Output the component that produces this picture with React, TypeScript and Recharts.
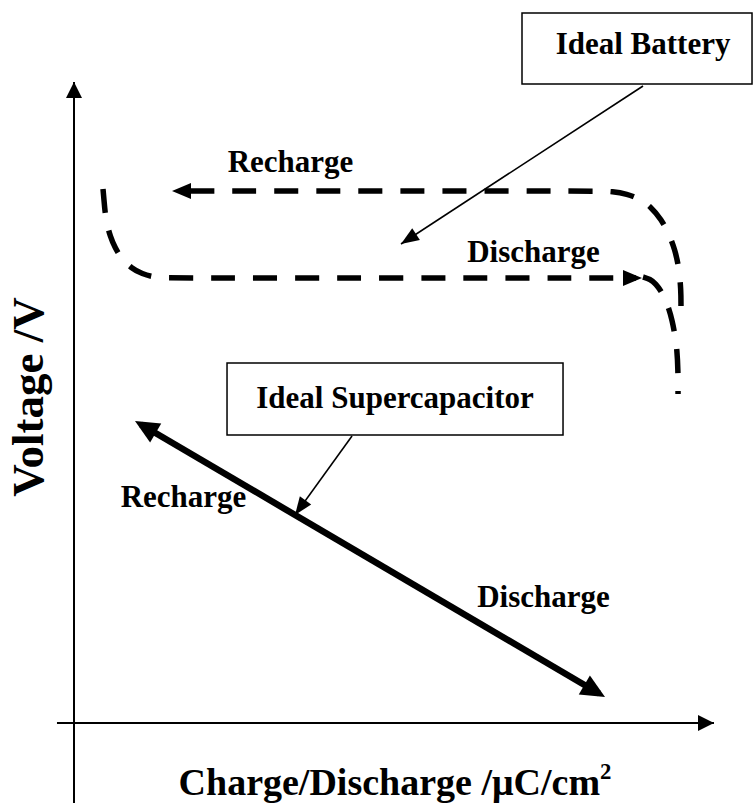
import React from "react";
import { LineChart, Line, XAxis, YAxis, ReferenceArea, ReferenceDot } from "recharts";

// ---- data (q = charge, v = voltage, arbitrary schematic units) ----
const axisVoltage = [
  { q: 0, v: -12.48 },
  { q: 0, v: 100 },
];
const axisCharge = [
  { q: -2.66, v: 0 },
  { q: 100, v: 0 },
];
const batteryRecharge = [
  { q: 94.84, v: 65.05 },
  { q: 94.84, v: 67.55 },
  { q: 94.53, v: 70.98 },
  { q: 93.91, v: 73.79 },
  { q: 92.97, v: 76.29 },
  { q: 91.72, v: 78.63 },
  { q: 90.16, v: 80.5 },
  { q: 88.44, v: 81.75 },
  { q: 86.41, v: 82.53 },
  { q: 84.06, v: 82.92 },
  { q: 82.19, v: 82.99 },
  { q: 50.94, v: 82.99 },
  { q: 16.25, v: 82.99 },
];
const batteryDischarge = [
  { q: 4.53, v: 83.31 },
  { q: 4.69, v: 81.59 },
  { q: 4.84, v: 79.72 },
  { q: 5.16, v: 77.85 },
  { q: 5.63, v: 75.98 },
  { q: 6.41, v: 74.1 },
  { q: 7.5, v: 72.39 },
  { q: 8.91, v: 70.98 },
  { q: 10.63, v: 70.05 },
  { q: 12.66, v: 69.5 },
  { q: 15.0, v: 69.42 },
  { q: 50.94, v: 69.42 },
  { q: 87.81, v: 69.42 },
];
const batteryDischargeEnd = [
  { q: 88.91, v: 69.58 },
  { q: 90.0, v: 69.27 },
  { q: 90.94, v: 68.49 },
  { q: 91.72, v: 67.39 },
  { q: 92.34, v: 66.15 },
  { q: 92.97, v: 64.59 },
  { q: 93.44, v: 62.87 },
  { q: 93.91, v: 60.53 },
  { q: 94.22, v: 58.19 },
  { q: 94.38, v: 55.07 },
  { q: 94.38, v: 51.33 },
];
const supercapacitor = [
  { q: 10.47, v: 46.57 },
  { q: 82.03, v: 4.6 },
];
const batteryPointer = [
  { q: 88.91, v: 99.38 },
  { q: 51.09, v: 74.73 },
];
const supercapPointer = [
  { q: 43.44, v: 44.77 },
  { q: 34.53, v: 32.45 },
];

// labels
const labelTexts = {
  battery: "Ideal Battery",
  supercap: "Ideal Supercapacitor",
  recharge: "Recharge",
  discharge: "Discharge",
  xTitle: "Charge/Discharge /\u03bcC/cm",
  xTitleSup: "2",
  yTitle: "Voltage /V",
};

// ---- layout ----
const W = 754;
const H = 803;
const X_DOMAIN: [number, number] = [-11.5625, 106.25];
const Y_DOMAIN: [number, number] = [-12.48, 112.79];
const FONT = "'Liberation Serif', 'Times New Roman', serif";

const makeText =
  (text: string, size: number, opts: { rotate?: boolean; sup?: string } = {}) =>
  (props: any) => {
    const vb = props.viewBox || {};
    const x = (vb.x ?? 0) + (vb.width ?? 0) / 2;
    const y = (vb.y ?? 0) + (vb.height ?? 0) / 2;
    return (
      <text
        x={x}
        y={y}
        textAnchor="middle"
        fontFamily={FONT}
        fontWeight="bold"
        fontSize={size}
        fill="#000"
        transform={opts.rotate ? `rotate(-90 ${x} ${y})` : undefined}
      >
        {text}
        {opts.sup ? (
          <tspan dy={-16} fontSize={size * 0.6}>
            {opts.sup}
          </tspan>
        ) : null}
      </text>
    );
  };

const arrowMarker = (id: string, len: number, half: number, refX: number) => (
  <marker
    id={id}
    markerUnits="userSpaceOnUse"
    markerWidth={len}
    markerHeight={half * 2}
    refX={refX}
    refY={half}
    orient="auto-start-reverse"
    overflow="visible"
  >
    <path d={`M0,0 L${len},${half} L0,${half * 2} Z`} fill="#000" />
  </marker>
);

export default function App() {
  return (
    <div style={{ position: "absolute", left: 0, top: 0, width: W, height: H, background: "#fff" }}>
      <LineChart width={W} height={H} margin={{ top: 0, right: 0, bottom: 0, left: 0 }}>
        <defs>
          {arrowMarker("arrAxis", 16, 8, 16)}
          {arrowMarker("arrDash", 19, 8, 13)}
          {arrowMarker("arrBig", 24, 11, 17)}
          {arrowMarker("arrThin", 18, 7, 18)}
        </defs>
        <XAxis type="number" dataKey="q" domain={X_DOMAIN} allowDataOverflow hide />
        <YAxis type="number" dataKey="v" domain={Y_DOMAIN} allowDataOverflow hide />

        <ReferenceArea
          x1={70.0}
          x2={105.94}
          y1={99.69}
          y2={110.76}
          fill="#fff"
          fillOpacity={1}
          stroke="#000"
          strokeWidth={1.5}
        />
        <ReferenceArea
          x1={23.91}
          x2={76.41}
          y1={44.93}
          y2={56.16}
          fill="#fff"
          fillOpacity={1}
          stroke="#000"
          strokeWidth={1.5}
        />

        <Line data={axisVoltage} dataKey="v" stroke="#000" strokeWidth={2} dot={false} activeDot={false}
          isAnimationActive={false} type="linear" markerEnd="url(#arrAxis)" />
        <Line data={axisCharge} dataKey="v" stroke="#000" strokeWidth={2} dot={false} activeDot={false}
          isAnimationActive={false} type="linear" markerEnd="url(#arrAxis)" />

        <Line data={batteryRecharge} dataKey="v" stroke="#000" strokeWidth={5.5} strokeDasharray="24 18"
          dot={false} activeDot={false} isAnimationActive={false} type="basis" markerEnd="url(#arrDash)" />
        <Line data={batteryDischarge} dataKey="v" stroke="#000" strokeWidth={5.5} strokeDasharray="24 18"
          dot={false} activeDot={false} isAnimationActive={false} type="basis" markerEnd="url(#arrDash)" />
        <Line data={batteryDischargeEnd} dataKey="v" stroke="#000" strokeWidth={5.5} strokeDasharray="24 18"
          dot={false} activeDot={false} isAnimationActive={false} type="basis" />

        <Line data={supercapacitor} dataKey="v" stroke="#000" strokeWidth={6.5} dot={false} activeDot={false}
          isAnimationActive={false} type="linear" markerStart="url(#arrBig)" markerEnd="url(#arrBig)" />

        <Line data={batteryPointer} dataKey="v" stroke="#000" strokeWidth={1.6} dot={false} activeDot={false}
          isAnimationActive={false} type="linear" markerEnd="url(#arrThin)" />
        <Line data={supercapPointer} dataKey="v" stroke="#000" strokeWidth={1.6} dot={false} activeDot={false}
          isAnimationActive={false} type="linear" markerEnd="url(#arrThin)" />

        <ReferenceDot x={88.91} y={104.37} r={0} fill="none" stroke="none"
          label={{ content: makeText(labelTexts.battery, 31) }} />
        <ReferenceDot x={50.16} y={49.14} r={0} fill="none" stroke="none"
          label={{ content: makeText(labelTexts.supercap, 31) }} />
        <ReferenceDot x={33.83} y={85.96} r={0} fill="none" stroke="none"
          label={{ content: makeText(labelTexts.recharge, 31) }} />
        <ReferenceDot x={71.8} y={71.92} r={0} fill="none" stroke="none"
          label={{ content: makeText(labelTexts.discharge, 31) }} />
        <ReferenceDot x={17.11} y={33.7} r={0} fill="none" stroke="none"
          label={{ content: makeText(labelTexts.recharge, 31) }} />
        <ReferenceDot x={73.36} y={18.1} r={0} fill="none" stroke="none"
          label={{ content: makeText(labelTexts.discharge, 31) }} />
        <ReferenceDot x={50.16} y={-11.23} r={0} fill="none" stroke="none"
          label={{ content: makeText(labelTexts.xTitle, 38, { sup: labelTexts.xTitleSup }) }} />
        <ReferenceDot x={-4.84} y={50.86} r={0} fill="none" stroke="none"
          label={{ content: makeText(labelTexts.yTitle, 45, { rotate: true }) }} />
      </LineChart>
    </div>
  );
}
